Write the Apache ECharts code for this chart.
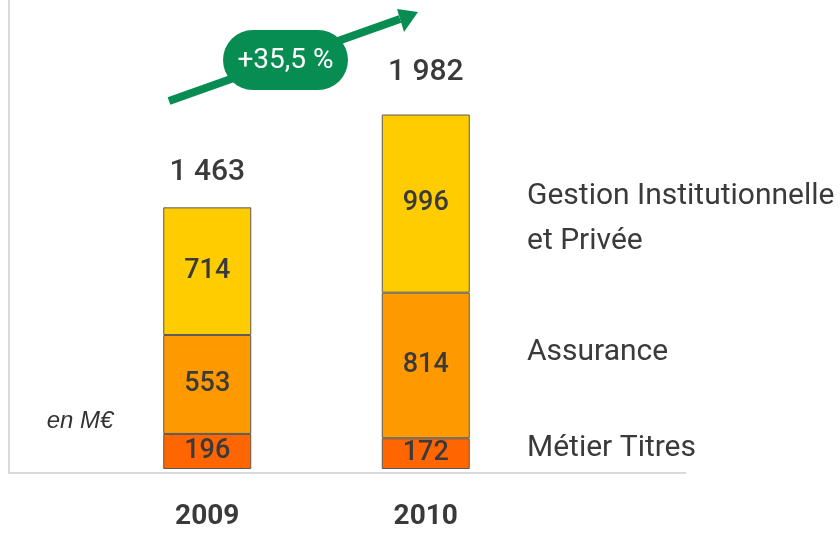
<!DOCTYPE html>
<html>
<head>
<meta charset="utf-8">
<script src="https://cdn.jsdelivr.net/npm/echarts@6/dist/echarts.min.js"></script>
<style>html,body{margin:0;padding:0;background:#fff}#c{width:840px;height:533px}</style>
</head>
<body>
<div id="c"></div>
<script>
var years = ['2009', '2010'];
var metierTitres = [196, 172];
var assurance = [553, 814];
var gestion = [714, 996];
var totals = [1463, 1982];
var growthLabel = '+35,5 %';
var unitLabel = 'en M€';
var seriesNames = ['Gestion Institutionnelle\net Privée', 'Assurance', 'Métier Titres'];

var NARROW = "Roboto,'Liberation Sans',sans-serif";
var TXT = '#3a3a3a';
function fmt(v){ return String(v).replace(/\B(?=(\d{3})+(?!\d))/g, ' '); }

var chart = echarts.init(document.getElementById('c'));
var segLabel = {show:true, position:'inside', color:TXT, fontFamily:NARROW, fontSize:27, fontWeight:500};
var border = {borderColor:'#595959', borderWidth:1};
var totalDist = [20, 27];

var option = {
  animation:false,
  grid:{left:98, right:305, top:4, bottom:64},
  xAxis:{type:'category', data:years,
    axisLine:{show:false}, axisTick:{show:false},
    axisLabel:{color:TXT, fontFamily:NARROW, fontSize:28, fontWeight:'bold', margin:34}},
  yAxis:{type:'value', min:0, max:2600, show:false},
  series:[
    {name:'Métier Titres', type:'bar', stack:'s', barWidth:88, data:metierTitres,
     itemStyle:Object.assign({color:'#FF6600'}, border), label:segLabel},
    {name:'Assurance', type:'bar', stack:'s', data:assurance,
     itemStyle:Object.assign({color:'#FF9900'}, border), label:segLabel},
    {name:'Gestion', type:'bar', stack:'s', data:gestion,
     itemStyle:Object.assign({color:'#FFCC00'}, border), label:segLabel},
    {name:'Total', type:'bar', stack:'s',
     data:totals.map(function(t,i){ return {value:0, label:{distance:totalDist[i]}}; }),
     itemStyle:{color:'transparent', borderWidth:0},
     label:{show:true, position:'top', color:TXT, fontFamily:NARROW, fontSize:30, fontWeight:500,
       formatter:function(p){ return fmt(totals[p.dataIndex]); }}}
  ],
  graphic:[
    {type:'line', shape:{x1:9, y1:0, x2:9, y2:474}, style:{stroke:'#d9d9d9', lineWidth:2}, silent:true},
    {type:'line', shape:{x1:8, y1:473, x2:686, y2:473}, style:{stroke:'#d9d9d9', lineWidth:2}, silent:true},
    {type:'line', shape:{x1:169, y1:101, x2:400, y2:19}, style:{stroke:'#078C52', lineWidth:8}, silent:true},
    {type:'polygon', shape:{points:[[418,12],[397,9],[404,32]]}, style:{fill:'#078C52'}, silent:true},
    {type:'rect', shape:{x:223, y:30, width:125, height:60, r:30}, style:{fill:'#078C52'}, silent:true},
    {type:'text', x:285.5, y:61, style:{text:growthLabel, fill:'#ffffff', font:'28px '+NARROW, align:'center', verticalAlign:'middle'}, silent:true},
    {type:'text', x:80, y:421, style:{text:unitLabel, fill:'#333333', font:'italic 24px "Liberation Sans",Arial,sans-serif', align:'center', verticalAlign:'middle'}, silent:true},
    {type:'text', x:527, y:219, style:{text:seriesNames[0], fill:TXT, font:'30px '+NARROW, lineHeight:45, verticalAlign:'middle'}, silent:true},
    {type:'text', x:527, y:352, style:{text:seriesNames[1], fill:TXT, font:'30px '+NARROW, verticalAlign:'middle'}, silent:true},
    {type:'text', x:527, y:448, style:{text:seriesNames[2], fill:TXT, font:'30px '+NARROW, verticalAlign:'middle'}, silent:true}
  ]
};
chart.setOption(option);
</script>
</body>
</html>
